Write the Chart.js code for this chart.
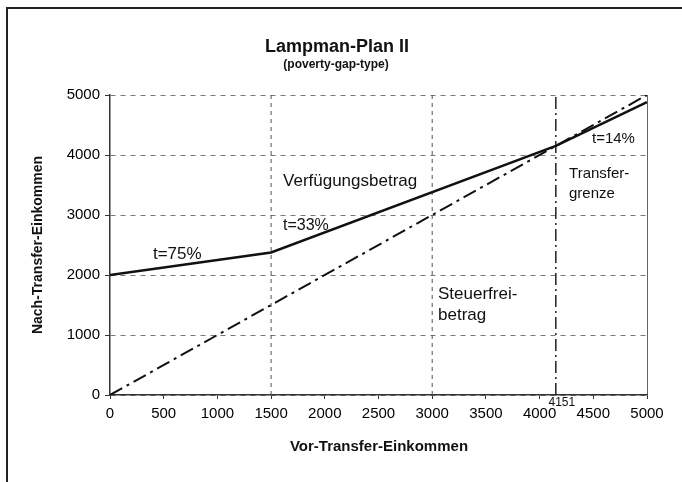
<!DOCTYPE html>
<html>
<head>
<meta charset="utf-8">
<script src="https://cdn.jsdelivr.net/npm/chart.js@4.4.1/dist/chart.umd.min.js"></script>
<style>
  body{margin:0;background:#fff;}
  #box{position:relative;width:682px;height:482px;overflow:hidden;background:#fff;}
  #rahmen{position:absolute;left:6px;top:7px;width:700px;height:500px;border-left:2px solid #222;border-top:2px solid #222;pointer-events:none;}
</style>
</head>
<body>
<div id="box">
  <canvas id="grafico" width="682" height="482"></canvas>
  <div id="rahmen"></div>
</div>
<script>
// dati del grafico
var vorEinkommen=[0,1500,4151,5000];
var nachEinkommen=[2000,2375,4151,4881];
var diagX=[0,5000];
var diagY=[0,5000];
var grenzen=[1500,3000,4151];
var titolo="Lampman-Plan II";
var sottotitolo="(poverty-gap-type)";
var titoloX="Vor-Transfer-Einkommen";
var titoloY="Nach-Transfer-Einkommen";

var font="'Liberation Sans', Arial, sans-serif";

//linee verticali
var stiliGrenze=[
  {color:'#555',dash:[4,4],width:1},
  {color:'#555',dash:[4,4],width:1},
  {color:'#222',dash:[12,4,2,4],width:1.5}
];
var dsGrenze=grenzen.map(function(g,i){
  return {
    data:[{x:g,y:0},{x:g,y:5000}],
    borderColor:stiliGrenze[i].color,
    borderDash:stiliGrenze[i].dash,
    borderWidth:stiliGrenze[i].width,
    pointRadius:0
  };
});

//testi dentro il grafico (posizione in coordinate dei dati)
var testi=[
  {t:'t=75%',x:400,y:2350,s:17},
  {t:'t=33%',x:1611,y:2817,s:16},
  {t:'Verfügungsbetrag',x:1611,y:3567,s:17},
  {t:'t=14%',x:4488,y:4267,s:15},
  {t:'Transfer-',x:4274,y:3683,s:15},
  {t:'grenze',x:4274,y:3350,s:15},
  {t:'Steuerfrei-',x:3054,y:1683,s:17},
  {t:'betrag',x:3054,y:1333,s:17}
];

var scritte={
  id:'scritte',
  afterDraw:function(chart){
    var c=chart.ctx, sx=chart.scales.x, sy=chart.scales.y;
    c.save();
    c.fillStyle='#111';
    c.textBaseline='middle';
    c.textAlign='left';
    testi.forEach(function(e){
      c.font=e.s+'px '+font;
      c.fillText(e.t,sx.getPixelForValue(e.x),sy.getPixelForValue(e.y));
    });
    //etichetta 4151
    c.font='12px '+font;
    c.textAlign='center';
    c.fillText(String(grenzen[2]),sx.getPixelForValue(grenzen[2])+6,sy.getPixelForValue(0)+8);
    //titoli
    c.font='bold 18px '+font;
    c.fillText(titolo,337,47);
    c.font='bold 12px '+font;
    c.fillText(sottotitolo,336,65);
    c.font='bold 15px '+font;
    c.fillText(titoloX,379,447);
    c.translate(38,245);
    c.rotate(-Math.PI/2);
    c.font='bold 14px '+font;
    c.fillText(titoloY,0,0);
    c.restore();
  }
};

var ctx=document.getElementById('grafico').getContext('2d');
new Chart(ctx,{
  type:'line',
  data:{
    datasets:[
      {
        data:vorEinkommen.map(function(v,i){return {x:v,y:nachEinkommen[i]};}),
        borderColor:'#111',
        borderWidth:2.5,
        pointRadius:0
      },
      {
        data:diagX.map(function(v,i){return {x:v,y:diagY[i]};}),
        borderColor:'#111',
        borderWidth:2,
        borderDash:[14,5,3,5],
        pointRadius:0
      }
    ].concat(dsGrenze)
  },
  options:{
    responsive:false,
    animation:false,
    devicePixelRatio:1,
    layout:{padding:{top:95,right:35,left:0,bottom:0}},
    plugins:{legend:{display:false},tooltip:{enabled:false}},
    scales:{
      x:{
        type:'linear',min:0,max:5000,
        afterFit:function(s){s.height=87;},
        ticks:{stepSize:500,color:'#000',font:{family:font,size:15},padding:6,maxRotation:0,
          callback:function(v){return String(v);}},
        grid:{
          color:function(c){return c.tick&&c.tick.value===5000?'#666':'rgba(0,0,0,0)';},
          tickColor:'#333',tickLength:4,lineWidth:1
        },
        border:{color:'#333',width:1.5}
      },
      y:{
        min:0,max:5000,
        afterFit:function(s){s.width=110;},
        ticks:{stepSize:1000,color:'#000',font:{family:font,size:15},padding:5,
          callback:function(v){return String(v);}},
        grid:{color:'#777',tickColor:'#333',tickLength:5,lineWidth:1},
        border:{color:'#333',width:1.5,dash:[5,5]}
      }
    }
  },
  plugins:[scritte]
});
</script>
</body>
</html>
